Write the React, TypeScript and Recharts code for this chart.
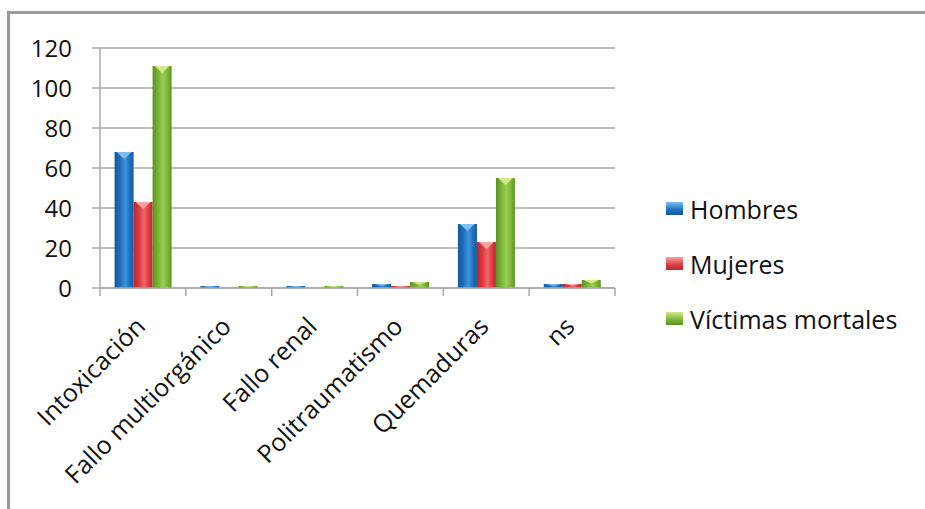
import React from 'react';
import { BarChart, Bar, XAxis, YAxis, CartesianGrid, Legend } from 'recharts';

const categories = [
  'Intoxicación',
  'Fallo multiorgánico',
  'Fallo renal',
  'Politraumatismo',
  'Quemaduras',
  'ns',
];
const hombres = [68, 1, 1, 2, 32, 2];
const mujeres = [43, 0, 0, 1, 23, 2];
const victimas = [111, 1, 1, 3, 55, 4];
const yTicks = [0, 20, 40, 60, 80, 100, 120];

const series = [
  { key: 'hombres', name: 'Hombres', dark: '#15589c', mid: '#1f70c0', light: '#3e93d8', tip: '#7cc0f0' },
  { key: 'mujeres', name: 'Mujeres', dark: '#b52a2e', mid: '#de3a3e', light: '#f0686b', tip: '#f7a3a5' },
  { key: 'victimas', name: 'Víctimas mortales', dark: '#5c9126', mid: '#7ab535', light: '#9dcc55', tip: '#d3e98a' },
];

const data = categories.map((c, i) => ({
  name: c,
  hombres: hombres[i],
  mujeres: mujeres[i],
  victimas: victimas[i],
}));

const FONT = '"Open Sans", Lato, sans-serif';
const BAND = (615 - 100) / categories.length;
const GRID = '#a8a8a8';

function BevelBar(props: any) {
  const { x, y, width, height, gid, tip } = props;
  if (!height || height <= 0) return null;
  const t = Math.min(7, height * 0.45);
  return (
    <g>
      <rect x={x} y={y} width={width} height={height} fill={`url(#${gid})`} />
      <polygon
        points={`${x + 2},${y} ${x + width - 2},${y} ${x + width / 2},${y + t}`}
        fill={tip}
      />
    </g>
  );
}

function CatTick(props: any) {
  const { x, y, payload, index } = props;
  const ax = x + 4;
  const ay = y + 40;
  return (
    <g>
      <line x1={x - BAND / 2} y1={y} x2={x - BAND / 2} y2={y + 8} stroke={GRID} strokeWidth={1.5} />
      {index === categories.length - 1 && (
        <line x1={x + BAND / 2} y1={y} x2={x + BAND / 2} y2={y + 8} stroke={GRID} strokeWidth={1.5} />
      )}
      <text
        x={ax}
        y={ay}
        textAnchor="end"
        fontSize={25}
        fontFamily={FONT}
        fill="#111"
        transform={`rotate(-45, ${ax}, ${ay})`}
      >
        {payload.value}
      </text>
    </g>
  );
}

function LegendBox() {
  return (
    <div style={{ fontFamily: FONT, fontSize: 25, color: '#111' }}>
      {series.map((s) => (
        <div key={s.key} style={{ display: 'flex', alignItems: 'center', height: 55 }}>
          <span
            style={{
              display: 'inline-block',
              width: 17,
              height: 13,
              marginRight: 7,
              background: `linear-gradient(to bottom, ${s.tip}, ${s.mid} 60%, ${s.dark})`,
            }}
          />
          <span>{s.name}</span>
        </div>
      ))}
    </div>
  );
}

export default function App() {
  return (
    <div style={{ position: 'absolute', left: 0, top: 0, width: 925, height: 509, overflow: 'hidden', background: '#fff' }}>
      <div
        style={{
          position: 'absolute',
          left: 7,
          top: 11,
          width: 1000,
          height: 600,
          borderTop: '3px solid #9a9a9a',
          borderLeft: '3px solid #9a9a9a',
        }}
      />
      <div style={{ position: 'absolute', left: 0, top: 0 }}>
        <BarChart
          width={925}
          height={509}
          data={data}
          margin={{ top: 48, right: 60, bottom: 21, left: 0 }}
          barCategoryGap="17%"
          barGap={0}
        >
          <defs>
            {series.map((s) => (
              <linearGradient key={s.key} id={`g-${s.key}`} x1="0" y1="0" x2="1" y2="0">
                <stop offset="0%" stopColor={s.dark} />
                <stop offset="30%" stopColor={s.mid} />
                <stop offset="55%" stopColor={s.light} />
                <stop offset="80%" stopColor={s.mid} />
                <stop offset="100%" stopColor={s.dark} />
              </linearGradient>
            ))}
          </defs>
          <CartesianGrid vertical={false} stroke={GRID} strokeWidth={1.5} />
          <XAxis
            dataKey="name"
            height={200}
            interval={0}
            tick={<CatTick />}
            tickLine={false}
            tickSize={0}
            tickMargin={0}
            axisLine={{ stroke: GRID, strokeWidth: 1.5 }}
          />
          <YAxis
            width={100}
            domain={[0, 120]}
            ticks={yTicks}
            interval={0}
            tickSize={8}
            tickMargin={20}
            tickLine={{ stroke: GRID, strokeWidth: 1.5 }}
            axisLine={{ stroke: GRID, strokeWidth: 1.5 }}
            tick={{ fill: '#111', fontSize: 24, fontFamily: FONT }}
          />
          <Legend
            layout="vertical"
            align="right"
            verticalAlign="middle"
            width={250}
            content={() => <LegendBox />}
            wrapperStyle={{ left: 666, top: 181, width: 250 }}
          />
          {series.map((s) => (
            <Bar
              key={s.key}
              dataKey={s.key}
              name={s.name}
              fill={s.mid}
              isAnimationActive={false}
              shape={(p: any) => <BevelBar {...p} gid={`g-${s.key}`} tip={s.tip} />}
            />
          ))}
        </BarChart>
      </div>
    </div>
  );
}
